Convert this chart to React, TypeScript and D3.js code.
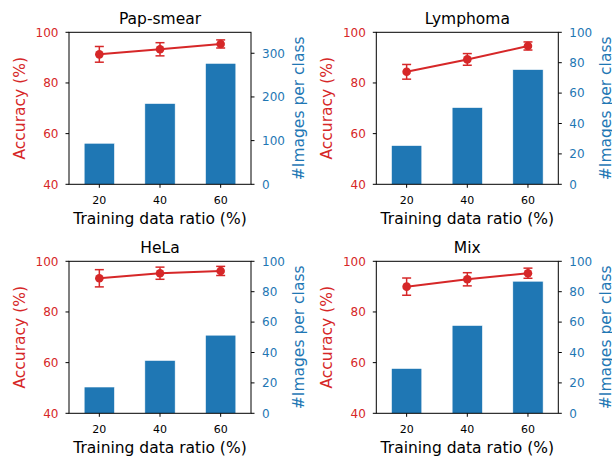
import React from "react";
import * as d3 from "d3";

const ratios = ["20", "40", "60"];
const titles = ["Pap-smear", "Lymphoma", "HeLa", "Mix"];

const papAcc = [91.3, 93.3, 95.4];
const papErr = [3.1, 2.6, 1.6];
const papImgs = [94, 185, 277];

const lymAcc = [84.4, 89.3, 94.6];
const lymErr = [2.9, 2.3, 1.6];
const lymImgs = [25.5, 50.5, 75.5];

const helaAcc = [93.3, 95.3, 96.2];
const helaErr = [3.4, 2.4, 1.8];
const helaImgs = [17.3, 34.8, 51.4];

const mixAcc = [90.0, 92.9, 95.3];
const mixErr = [3.4, 2.6, 2.0];
const mixImgs = [29.5, 57.8, 86.9];

const accTicks = [40, 60, 80, 100];
const papImgTicks = [0, 100, 200, 300];
const imgTicks = [0, 20, 40, 60, 80, 100];

const RED = "#d62728";
const BLUE = "#1f77b4";
const FONT = "DejaVu Sans";

const W = 182;
const H = 152;

function Panel(props) {
  const { title, acc, err, imgs, imgMax, rTicks, x0, y0 } = props;

  const x = d3.scaleBand().domain(ratios).range([0, W]).paddingInner(0.5).paddingOuter(0.25);
  const xc = (d) => x(d) + x.bandwidth() / 2;
  const yAcc = d3.scaleLinear().domain([40, 100]).range([H, 0]);
  const yImg = d3.scaleLinear().domain([0, imgMax]).range([H, 0]);

  const line = d3.line()
    .x((d, i) => xc(ratios[i]))
    .y((d) => yAcc(d));

  return (
    <g transform={`translate(${x0},${y0})`} fontFamily={FONT}>
      {/* bars (right axis) */}
      {imgs.map((v, i) => (
        <rect key={i} x={x(ratios[i])} y={yImg(v)} width={x.bandwidth()} height={H - yImg(v)}
          fill={BLUE} stroke="#ffffff" strokeWidth={0.6} />
      ))}

      {/* accuracy line with error bars */}
      <path d={line(acc)} fill="none" stroke={RED} strokeWidth={2} />
      {acc.map((v, i) => {
        const cx = xc(ratios[i]);
        return (
          <g key={i} stroke={RED} strokeWidth={1.5}>
            <line x1={cx} x2={cx} y1={yAcc(v - err[i])} y2={yAcc(v + err[i])} />
            <line x1={cx - 4.5} x2={cx + 4.5} y1={yAcc(v - err[i])} y2={yAcc(v - err[i])} />
            <line x1={cx - 4.5} x2={cx + 4.5} y1={yAcc(v + err[i])} y2={yAcc(v + err[i])} />
            <circle cx={cx} cy={yAcc(v)} r={4.3} fill={RED} stroke="none" />
          </g>
        );
      })}

      {/* frame */}
      <rect x={0} y={0} width={W} height={H} fill="none" stroke="#000" strokeWidth={1} />

      {/* left axis */}
      {accTicks.map((t) => (
        <g key={t} transform={`translate(0,${yAcc(t)})`}>
          <line x1={-3.5} x2={0} stroke="#000" />
          <text x={-10.5} dy="0.36em" textAnchor="end" fontSize={12} fill={RED}>{t}</text>
        </g>
      ))}
      <text transform={`translate(-44,${H / 2}) rotate(-90)`} textAnchor="middle" fontSize={15.5} fill={RED}>
        Accuracy (%)
      </text>

      {/* right axis */}
      {rTicks.map((t) => (
        <g key={t} transform={`translate(${W},${yImg(t)})`}>
          <line x1={0} x2={3.5} stroke="#000" />
          <text x={11} dy="0.36em" textAnchor="start" fontSize={12} fill={BLUE}>{t}</text>
        </g>
      ))}
      <text transform={`translate(${W + 52.5},${H / 2}) rotate(-90)`} textAnchor="middle" fontSize={15.5} fill={BLUE}>
        #Images per class
      </text>

      {/* bottom axis */}
      {ratios.map((r) => (
        <g key={r} transform={`translate(${xc(r)},${H})`}>
          <line y1={0} y2={3.5} stroke="#000" />
          <text y={20} textAnchor="middle" fontSize={11} fill="#000">{r}</text>
        </g>
      ))}
      <text x={W / 2} y={H + 39.7} textAnchor="middle" fontSize={15.5} fill="#000">
        Training data ratio (%)
      </text>

      {/* title */}
      <text x={W / 2} y={-8.7} textAnchor="middle" fontSize={15.5} fill="#000">{title}</text>
    </g>
  );
}

export default function App() {
  return (
    <svg width={612} height={456} style={{ position: "absolute", left: 0, top: 0, background: "#fff" }}>
      <rect width={612} height={456} fill="#fff" />
      <Panel title={titles[0]} acc={papAcc} err={papErr} imgs={papImgs} imgMax={348} rTicks={papImgTicks} x0={69} y0={32.3} />
      <Panel title={titles[1]} acc={lymAcc} err={lymErr} imgs={lymImgs} imgMax={100} rTicks={imgTicks} x0={376.3} y0={32.3} />
      <Panel title={titles[2]} acc={helaAcc} err={helaErr} imgs={helaImgs} imgMax={100} rTicks={imgTicks} x0={69} y0={261.3} />
      <Panel title={titles[3]} acc={mixAcc} err={mixErr} imgs={mixImgs} imgMax={100} rTicks={imgTicks} x0={376.3} y0={261.3} />
    </svg>
  );
}
